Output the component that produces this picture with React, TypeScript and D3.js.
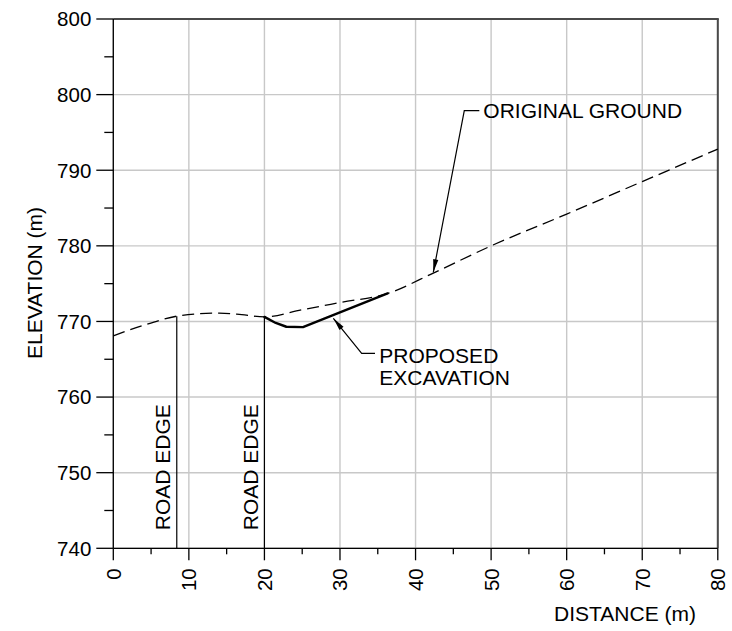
import React from 'react';
import * as d3 from 'd3';

// ground profile (distance m, elevation m)
const groundDist = [0, 4, 8.4, 11, 14, 17, 20, 25, 30, 36.3, 42.35, 50, 60, 70, 80];
const groundElev = [768.1, 769.5, 770.7, 771.0, 771.1, 770.9, 770.6, 771.55, 772.5, 773.7, 776.4, 780.0, 784.2, 788.5, 792.8];

// proposed excavation
const cutDist = [20, 21.5, 22.9, 25.1, 36.3];
const cutElev = [770.6, 769.8, 769.3, 769.25, 773.7];

// road edges
const roadDist = [8.4, 20.0];
const roadTop = [770.7, 770.6];

const xTicks = [0, 10, 20, 30, 40, 50, 60, 70, 80];
const yTicks = [740, 750, 760, 770, 780, 790, 800, 810];
const yTickLabels = ['740', '750', '760', '770', '780', '790', '800', '800'];

const W = 732;
const H = 631;
const FONT = '"Liberation Sans", Arial, sans-serif';
const FS = 21;

export default function App() {
  const x = d3.scaleLinear().domain([0, 80]).range([113.3, 717.8]);
  const y = d3.scaleLinear().domain([740, 810]).range([548.3, 19]);

  const ground = groundDist.map((d, i) => [d, groundElev[i]] as [number, number]);
  const cut = cutDist.map((d, i) => [d, cutElev[i]] as [number, number]);

  const groundLine = d3
    .line<[number, number]>()
    .x((d) => x(d[0]))
    .y((d) => y(d[1]))
    .curve(d3.curveMonotoneX);
  const cutLine = d3
    .line<[number, number]>()
    .x((d) => x(d[0]))
    .y((d) => y(d[1]));

  const xMinor = d3.range(5, 80, 10);
  const yMinor = d3.range(745, 810, 10);

  // leader with arrow head: points in data units, first = tip
  const leader = (pts: [number, number][]) => {
    const p = pts.map((d) => [x(d[0]), y(d[1])]);
    const [tx, ty] = p[0];
    const [ex, ey] = p[1];
    const len = Math.hypot(ex - tx, ey - ty);
    const ux = (ex - tx) / len;
    const uy = (ey - ty) / len;
    const L = 13;
    const hw = 2.6;
    const bx = tx + ux * L;
    const by = ty + uy * L;
    const head = `M${tx},${ty}L${bx - uy * hw},${by + ux * hw}L${bx + uy * hw},${by - ux * hw}Z`;
    return (
      <g>
        <path d={'M' + p.map((q) => q.join(',')).join('L')} fill="none" stroke="#000" strokeWidth={1.2} />
        <path d={head} fill="#000" />
      </g>
    );
  };

  return (
    <svg width={W} height={H} style={{ position: 'absolute', left: 0, top: 0, background: '#fff' }} fontFamily={FONT}>
      {/* grid */}
      {xTicks.map((t) => (
        <line key={'gx' + t} x1={x(t)} x2={x(t)} y1={y(740)} y2={y(810)} stroke="#c8c8c8" strokeWidth={1.4} />
      ))}
      {yTicks.map((t) => (
        <line key={'gy' + t} x1={x(0)} x2={x(80)} y1={y(t)} y2={y(t)} stroke="#c8c8c8" strokeWidth={1.4} />
      ))}

      {/* frame */}
      <line x1={x(0)} x2={x(80) + 1} y1={y(810)} y2={y(810)} stroke="#4a4a4a" strokeWidth={1.8} />
      <line x1={x(80)} x2={x(80)} y1={y(810)} y2={y(740)} stroke="#4a4a4a" strokeWidth={2} />
      <line x1={x(0)} x2={x(0)} y1={y(810)} y2={y(740)} stroke="#000" strokeWidth={1.3} />
      <line x1={x(0)} x2={x(80)} y1={y(740)} y2={y(740)} stroke="#000" strokeWidth={1.3} />

      {/* x ticks */}
      {xTicks.map((t) => (
        <g key={'xt' + t}>
          <line x1={x(t)} x2={x(t)} y1={y(740)} y2={y(740) + 12} stroke="#000" strokeWidth={1.3} />
          <text
            transform={`translate(${x(t)},${y(740) + 20}) rotate(-90)`}
            textAnchor="end"
            dy="0.36em"
            fontSize={20.5}
            fill="#000"
          >
            {t}
          </text>
        </g>
      ))}
      {xMinor.map((t) => (
        <line key={'xm' + t} x1={x(t)} x2={x(t)} y1={y(740)} y2={y(740) + 6} stroke="#000" strokeWidth={1.3} />
      ))}

      {/* y ticks */}
      {yTicks.map((t, i) => (
        <g key={'yt' + t}>
          <line x1={x(0) - 17} x2={x(0)} y1={y(t)} y2={y(t)} stroke="#000" strokeWidth={1.3} />
          <text x={x(0) - 22} y={y(t)} dy="0.36em" textAnchor="end" fontSize={20.5} fill="#000">
            {yTickLabels[i]}
          </text>
        </g>
      ))}
      {yMinor.map((t) => (
        <line key={'ym' + t} x1={x(0) - 9} x2={x(0)} y1={y(t)} y2={y(t)} stroke="#000" strokeWidth={1.3} />
      ))}

      {/* axis titles */}
      <text x={625} y={620.5} textAnchor="middle" fontSize={FS} fill="#000">
        DISTANCE (m)
      </text>
      <text transform="translate(42,283) rotate(-90)" textAnchor="middle" fontSize={FS} fill="#000">
        ELEVATION (m)
      </text>

      {/* road edges */}
      {roadDist.map((d, i) => (
        <line key={'re' + i} x1={x(d)} x2={x(d)} y1={y(740)} y2={y(roadTop[i])} stroke="#000" strokeWidth={1.2} />
      ))}
      {roadDist.map((d, i) => (
        <text
          key={'rl' + i}
          transform={`translate(${x(d) - 6.5},${y(742.4)}) rotate(-90)`}
          fontSize={FS}
          fill="#000"
        >
          ROAD EDGE
        </text>
      ))}

      {/* original ground */}
      <path d={groundLine(ground) || ''} fill="none" stroke="#000" strokeWidth={1.3} strokeDasharray="12,6" />
      {/* proposed excavation */}
      <path
        d={cutLine(cut) || ''}
        fill="none"
        stroke="#000"
        strokeWidth={2.4}
        strokeLinejoin="round"
        strokeLinecap="round"
      />

      {/* annotations */}
      {leader([
        [42.35, 776.5],
        [46.45, 797.87],
        [48.44, 797.87],
      ])}
      <text x={x(48.97)} y={y(796.9)} fontSize={FS} fill="#000">
        ORIGINAL GROUND
      </text>

      {leader([
        [29.12, 770.42],
        [32.87, 765.79],
        [34.63, 765.79],
      ])}
      <text x={x(35.2)} y={y(764.55)} fontSize={FS} fill="#000">
        PROPOSED
      </text>
      <text x={x(35.2)} y={y(761.6)} fontSize={FS} fill="#000">
        EXCAVATION
      </text>
    </svg>
  );
}
